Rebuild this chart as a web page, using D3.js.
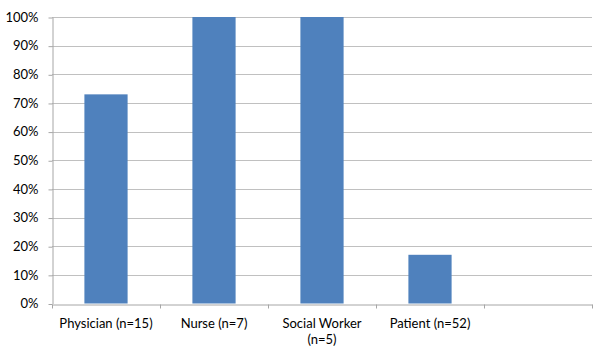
<!DOCTYPE html>
<html>
<head>
<meta charset="utf-8">
<script src="https://cdn.jsdelivr.net/npm/d3@7"></script>
<style>
    body { margin: 0; background: #fff; }
    svg text { font-family: Lato, "Open Sans", sans-serif; font-size: 13px; fill: #000; }
</style>
</head>
<body>
<svg id="chart"></svg>
<script>
// categories (last slot is empty in the original)
const categories = ['Physician (n=15)', 'Nurse (n=7)', 'Social Worker|(n=5)', 'Patient (n=52)', ''];
const values = [0.73, 1.00, 1.00, 0.17, null];
const yTicks = [0, 0.1, 0.2, 0.3, 0.4, 0.5, 0.6, 0.7, 0.8, 0.9, 1.0];

const width = 600;
const height = 350;
const margin = { top: 17, right: 8, bottom: 46.5, left: 52 };

const svg = d3.select('#chart')
    .attr('width', width)
    .attr('height', height);

// scales
const xScale = d3.scaleBand()
    .domain(d3.range(categories.length))
    .range([margin.left, width - margin.right])
    .padding(0);
const yScale = d3.scaleLinear()
    .domain([0, 1])
    .range([height - margin.bottom, margin.top]);

// gridlines
svg.append('g')
    .selectAll('line')
    .data(yTicks.slice(1))
    .enter()
    .append('line')
    .attr('x1', margin.left)
    .attr('x2', width - margin.right)
    .attr('y1', d => Math.round(yScale(d)) + 0.5)
    .attr('y2', d => Math.round(yScale(d)) + 0.5)
    .attr('stroke', '#c0c0c0')
    .attr('stroke-width', 1);

// bars
const bw = xScale.bandwidth() * 0.4;
svg.append('g')
    .selectAll('rect')
    .data(values.map((v, i) => [i, v]).filter(d => d[1] !== null))
    .enter()
    .append('rect')
    .attr('x', d => xScale(d[0]) + (xScale.bandwidth() - bw) / 2)
    .attr('y', d => yScale(d[1]))
    .attr('width', bw)
    .attr('height', d => yScale(0) - yScale(d[1]))
    .attr('fill', '#4f81bd');

// y axis
const yAxis = svg.append('g')
    .attr('transform', `translate(${margin.left + 0.5},0)`)
    .call(d3.axisLeft(yScale).tickValues(yTicks).tickFormat(d3.format('.0%')).tickSizeInner(4).tickSizeOuter(0).tickPadding(10));
yAxis.select('.domain').attr('stroke', '#a6a6a6');
yAxis.selectAll('.tick line').attr('stroke', '#a6a6a6')
    .attr('transform', 'translate(0,0.5)');
yAxis.selectAll('.tick text').attr('font-family', null).attr('font-size', null);

// x axis
const xAxis = svg.append('g')
    .attr('transform', `translate(0,${Math.round(yScale(0)) + 0.5})`)
    .call(d3.axisBottom(xScale).tickSize(0).tickFormat(''));
xAxis.select('.domain').attr('stroke', '#a6a6a6');
xAxis.selectAll('.tick').remove();

// category boundary ticks
const bounds = d3.range(categories.length + 1).map(i =>
    i < categories.length ? xScale(i) : xScale(i - 1) + xScale.bandwidth());
xAxis.selectAll('.bound')
    .data(bounds)
    .enter()
    .append('line')
    .attr('class', 'bound')
    .attr('x1', d => Math.round(d) + 0.5)
    .attr('x2', d => Math.round(d) + 0.5)
    .attr('y1', 0)
    .attr('y2', 4)
    .attr('stroke', '#a6a6a6');

// category labels
const labels = svg.append('g')
    .selectAll('text')
    .data(categories)
    .enter()
    .append('text')
    .attr('text-anchor', 'middle')
    .attr('x', (d, i) => xScale(i) + xScale.bandwidth() / 2)
    .attr('y', yScale(0) + 24);
labels.selectAll('tspan')
    .data(d => d.split('|'))
    .enter()
    .append('tspan')
    .attr('x', function () { return this.parentNode.getAttribute('x'); })
    .attr('dy', (d, i) => i === 0 ? 0 : 16)
    .text(d => d);
</script>
</body>
</html>
